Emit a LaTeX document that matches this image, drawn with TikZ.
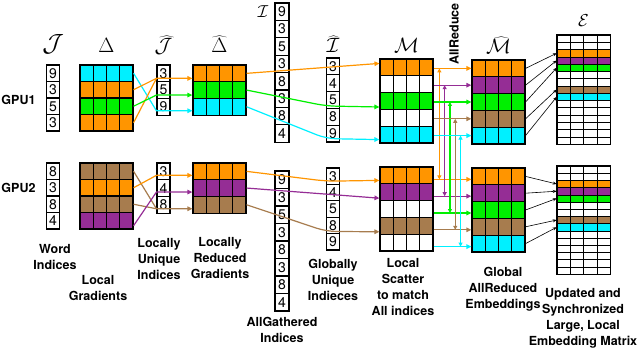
\documentclass[tikz,border=0pt]{standalone}
\usepackage{fontspec}
\setmainfont{TeX Gyre Heros}
\usetikzlibrary{arrows.meta,calc}
\definecolor{gOrange}{HTML}{FF9500}
\definecolor{gGreen}{HTML}{00F000}
\definecolor{gCyan}{HTML}{00F0FF}
\definecolor{gPurple}{HTML}{952D95}
\definecolor{gBrown}{HTML}{A77C4E}
\tikzset{
  idxcell/.style={draw, line width=1.1pt, fill=white, minimum width=#1, inner sep=0pt,
    font=\fontsize{14}{14}\selectfont},
  idxcell/.default=13.5pt,
  gridrow/.style={draw, line width=#1, minimum width=53pt, inner sep=0pt,
    path picture={\foreach \q in {1,2,3}
      \draw[line width=#1] ($(path picture bounding box.south west)!\q/4!(path picture bounding box.south east)$)
        -- ($(path picture bounding box.north west)!\q/4!(path picture bounding box.north east)$);}},
  gridrow/.default=1.1pt,
  flow/.style={line width=1.2pt, -{Triangle[length=5pt,width=4.5pt]}},
  dflow/.style={line width=1.2pt, {Triangle[length=4pt,width=4pt]}-{Triangle[length=4pt,width=4pt]}},
  tip/.style={line width=0.6pt, -{Stealth[length=4pt,width=3pt]}},
  mlabel/.style={anchor=base, inner sep=0pt, font=\huge},
  txt/.style={align=center, inner sep=0pt, font=\fontsize{12.5}{16}\selectfont\bfseries}
}
% name, x, top, cell height, entries
\newcommand{\idxcol}[6][13.5pt]{\foreach \v [count=\k] in {#6}
  \node[idxcell=#1, minimum height=#5pt] (#2-\k) at ({#3},{#4+(\k-0.5)*#5}) {\v};}
% name, x, top, row height, fills
\newcommand{\gradcol}[6][1.1pt]{\foreach \c [count=\k] in {#6}
  \node[gridrow=#1, fill=\c, minimum height=#5pt] (#2-\k) at ({#3},{#4+(\k-0.5)*#5}) {};}

\begin{document}
\begin{tikzpicture}[x=1pt,y=-1pt]
  \useasboundingbox (0,0) rectangle (640,350);

  % GPU1
  \node[txt] (gpu1) at (18.5,100) {GPU1};
  \idxcol{J1}{53}{65}{16.5}{9,3,5,3}
  \gradcol{D1}{106.5}{65}{16.5}{gCyan,gOrange,gGreen,gOrange}
  \idxcol[13pt]{JH1}{163.5}{65}{16.7}{3,5,9}
  \gradcol{DH1}{219.5}{65}{16.7}{gOrange,gGreen,gCyan}
  \idxcol[14pt]{I1}{282}{3}{17.4}{9,3,5,3,8,3,8,4}
  \idxcol[12.5pt]{IH1}{333}{58}{16.8}{3,4,5,8,9}
  \gradcol{M1}{406.5}{59}{16.8}{gOrange,white,gGreen,white,gCyan}
  \gradcol{MH1}{498.5}{60}{16.8}{gOrange,gPurple,gGreen,gBrown,gCyan}
  \gradcol[0.5pt]{E1}{583.5}{35}{7.27}{white,white,gOrange,gPurple,gGreen,white,white,gBrown,gCyan,white,white,white,white,white,white}
  \draw[line width=1pt] (E1-1.north west) rectangle (E1-15.south east);

  % GPU2
  \node[txt] (gpu2) at (18.5,188) {GPU2};
  \idxcol{J2}{53}{163}{16.5}{8,3,8,4}
  \gradcol{D2}{106.5}{163}{16.5}{gBrown,gOrange,gBrown,gPurple}
  \idxcol[13pt]{JH2}{163.5}{163}{16.7}{3,4,8}
  \gradcol{DH2}{219.5}{163}{16.7}{gOrange,gPurple,gBrown}
  \idxcol[14pt]{I2}{282}{171}{17.5}{9,3,5,3,8,3,8,4}
  \idxcol[12.5pt]{IH2}{333}{168}{16.4}{3,4,5,8,9}
  \gradcol{M2}{406.5}{167}{16.8}{gOrange,gPurple,white,gBrown,white}
  \gradcol{MH2}{498.5}{168}{16.8}{gOrange,gPurple,gGreen,gBrown,gCyan}
  \gradcol[0.5pt]{E2}{583.5}{166}{7.2}{white,white,gOrange,gPurple,gGreen,white,white,gBrown,gCyan,white,white,white,white,white,white}
  \draw[line width=1pt] (E2-1.north west) rectangle (E2-15.south east);

  % symbols
  \node[mlabel, font=\Huge] (sJ) at (53,52) {$\mathcal{J}$};
  \node[mlabel] (sD) at (106.5,53) {$\Delta$};
  \node[mlabel] (sJH) at (163.5,53) {$\widehat{\mathcal{J}}$};
  \node[mlabel] (sDH) at (219.5,53) {$\widehat{\Delta}$};
  \node[mlabel, font=\LARGE] (sI) at (263,18) {$\mathcal{I}$};
  \node[mlabel] (sIH) at (333,53) {$\widehat{\mathcal{I}}$};
  \node[mlabel] (sM) at (406.5,53) {$\mathcal{M}$};
  \node[mlabel] (sMH) at (498.5,54) {$\widehat{\mathcal{M}}$};
  \node[mlabel, font=\LARGE] (sE) at (583.5,27) {$\mathcal{E}$};

  % local reduce
  \draw[flow, gCyan] (D1-1.east) -- ([yshift=-4pt]JH1-3.west) -- ([yshift=-4pt]DH1-3.west);
  \draw[line width=1.2pt, gOrange] (D1-4.east) -- ([yshift=-5pt]JH1-1.west);
  \draw[flow, gOrange] (D1-2.east) -- ([yshift=-5pt]JH1-1.west) -- ([yshift=-5pt]DH1-1.west);
  \draw[flow, gGreen] (D1-3.east) -- ([yshift=-5pt]JH1-2.west) -- ([yshift=-5pt]DH1-2.west);
  \draw[line width=1.2pt, gBrown] (D2-3.east) -- ([yshift=-4pt]JH2-3.west);
  \draw[flow, gBrown] (D2-1.east) -- ([yshift=-4pt]JH2-3.west) -- ([yshift=-4pt]DH2-3.west);
  \draw[flow, gOrange] (D2-2.east) -- ([yshift=-4pt]JH2-1.west) -- ([yshift=-4pt]DH2-1.west);
  \draw[flow, gPurple] ([yshift=-5pt]D2-4.east) -- ([yshift=-4pt]JH2-2.west) -- ([yshift=-4pt]DH2-2.west);

  % local scatter
  \draw[flow, gOrange] (DH1-1.east) -- ([yshift=4pt]M1-1.west);
  \draw[flow, gGreen, rounded corners=10pt] (DH1-2.east) -- ([yshift=-6pt]IH1-3.west) -- ([yshift=-6pt]M1-3.west);
  \draw[flow, gCyan, rounded corners=10pt] (DH1-3.east) -- ([yshift=-5pt]IH1-5.west) -- ([yshift=-5pt]M1-5.west);
  \draw[flow, gOrange, rounded corners=10pt] (DH2-1.east) -- ([yshift=-5pt]IH2-1.west) -- ([yshift=-5pt]M2-1.west);
  \draw[flow, gPurple] (DH2-2.east) -- ([yshift=-6pt]M2-2.west);
  \draw[flow, gBrown, rounded corners=10pt] (DH2-3.east) -- ([yshift=-6pt]IH2-4.west) -- ([yshift=-6pt]M2-4.west);

  % allreduce
  \foreach \c [count=\k] in {gOrange,gPurple,gGreen,gBrown,gCyan} {
    \coordinate (ar\k) at ($(M1-\k.east)+({0.5+5.3*\k},0)$);
    \coordinate (lo\k) at ([yshift=-3pt]MH2-\k.west);
    \draw[flow, \c] (M1-\k.east |- MH1-\k.west) -- (MH1-\k.west);
    \draw[flow, \c] (M2-\k.east |- lo\k) -- (lo\k);
    \draw[dflow, \c] (ar\k |- MH1-\k.west) -- (ar\k |- lo\k);
  }
  \node[txt, rotate=90] (allred) at (454,34) {AllReduce};

  % update embedding matrix
  \foreach \k/\r in {1/3,2/4,3/5,4/8,5/9} {
    \draw[tip] (MH1-\k.east) -- (E1-\r.west);
    \draw[tip] (MH2-\k.east) -- (E2-\r.west);
  }

  % captions
  \node[txt] (cJ) at (55,257) {Word\\Indices};
  \node[txt] (cD) at (98,288) {Local\\Gradients};
  \node[txt] (cJH) at (159,259) {Locally\\Unique\\Indices};
  \node[txt] (cDH) at (220,258) {Locally\\Reduced\\Gradients};
  \node[txt] (cI) at (282,330) {AllGathered\\Indices};
  \node[txt] (cIH) at (333,280) {Globally\\Unique\\Indieces};
  \node[txt] (cM) at (403,287) {Local\\Scatter\\to match\\All indices};
  \node[txt] (cMH) at (503,289) {Global\\AllReduced\\Embeddings};
  \node[txt] (cE) at (583,318) {Updated and\\Synchronized\\Large, Local\\Embedding Matrix};
\end{tikzpicture}
\end{document}
